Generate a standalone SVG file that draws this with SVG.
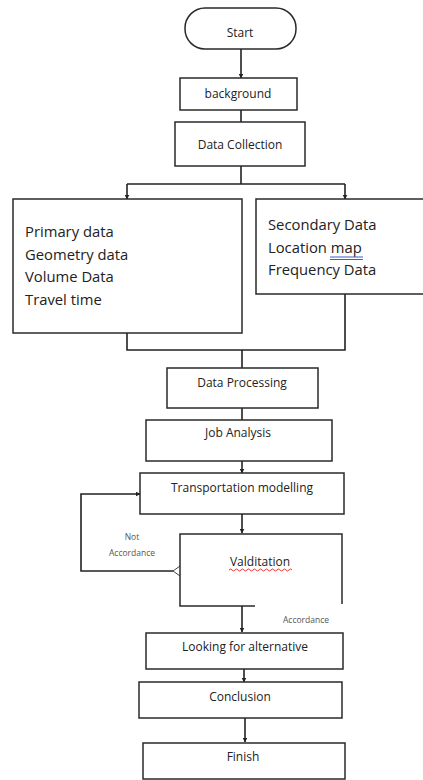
<svg xmlns="http://www.w3.org/2000/svg" width="423" height="780" viewBox="0 0 423 780">
<defs>
<marker id="ah" viewBox="0 0 10 10" refX="9" refY="5" markerWidth="5" markerHeight="5" orient="auto" markerUnits="userSpaceOnUse">
<path d="M0,0 L10,5 L0,10 z" fill="#222"/>
</marker>
<style>
.box{fill:#fff;stroke:#2a2a2a;stroke-width:1.5}
.lbl{font-family:"Open Sans","Liberation Sans",sans-serif;font-size:12px;fill:#222;text-anchor:middle}
.big{font-family:"Open Sans","Liberation Sans",sans-serif;font-size:14.8px;fill:#222}
.small{font-family:"Open Sans","Liberation Sans",sans-serif;font-size:8.5px;fill:#555;text-anchor:middle}
.ln{fill:none;stroke:#222;stroke-width:1.6}
</style>
</defs>
<rect width="423" height="780" fill="#fff"/>
<g id="connectors">
<path class="ln" d="M241,49 V78" marker-end="url(#ah)"/>
<path class="ln" d="M241,110 V122"/>
<path class="ln" d="M241,166 V184"/>
<path class="ln" d="M127,184 H345"/>
<path class="ln" d="M127,184 V199" marker-end="url(#ah)"/>
<path class="ln" d="M345,184 V199" marker-end="url(#ah)"/>
<path class="ln" d="M127,333 V350 H345 V294"/>
<path class="ln" d="M242,350 V368"/>
<path class="ln" d="M242,408 V420"/>
<path class="ln" d="M242,461 V473" marker-end="url(#ah)"/>
<path class="ln" d="M242,514 V533" marker-end="url(#ah)"/>
<path class="ln" d="M173,571 H81 V494 H140" marker-end="url(#ah)"/>
<path d="M180,566 L173,571 L180,576" fill="#fff" stroke="#444" stroke-width="1"/>
<path class="ln" d="M242,606 V632" marker-end="url(#ah)"/>
<path class="ln" d="M244,669 V682" marker-end="url(#ah)"/>
<path class="ln" d="M245,718 V742" marker-end="url(#ah)"/>
</g>
<g id="start">
<rect class="box" x="185" y="8" width="111" height="41" rx="20" ry="20" stroke="#5a6a80"/>
<text class="lbl" x="240" y="37" font-size="13.5">Start</text>
</g>
<g id="background">
<rect class="box" x="180" y="78" width="117" height="32"/>
<text class="lbl" x="238" y="98">background</text>
</g>
<g id="data-collection">
<rect class="box" x="175" y="122" width="130" height="44"/>
<text class="lbl" x="240" y="149">Data Collection</text>
</g>
<g id="primary">
<rect class="box" x="13" y="199" width="229" height="134"/>
<text class="big" x="25" y="237">Primary data</text>
<text class="big" x="25" y="260">Geometry data</text>
<text class="big" x="25" y="282">Volume Data</text>
<text class="big" x="25" y="305">Travel time</text>
</g>
<g id="secondary">
<path class="box" d="M424,199 H256 V294 H424"/>
<text class="big" x="268" y="230">Secondary Data</text>
<text class="big" x="268" y="253">Location map</text>
<path d="M330,257 H363 M330,259.5 H363" stroke="#3a5fcd" stroke-width="1"/>
<text class="big" x="268" y="275">Frequency Data</text>
</g>
<g id="data-processing">
<rect class="box" x="167" y="368" width="151" height="40"/>
<text class="lbl" x="242" y="387">Data Processing</text>
</g>
<g id="job-analysis">
<rect class="box" x="146" y="420" width="186" height="41"/>
<text class="lbl" x="238" y="437">Job Analysis</text>
</g>
<g id="transportation">
<rect class="box" x="140" y="473" width="204" height="41"/>
<text class="lbl" x="242" y="492" font-size="12.5">Transportation modelling</text>
</g>
<g id="validation">
<path class="box" d="M255,606 H180 V534 H342 V604"/>
<text class="lbl" x="260" y="566" font-size="12.5">Valditation</text>
<path d="M229,570 q1.5,-2 3,0 t3,0 t3,0 t3,0 t3,0 t3,0 t3,0 t3,0 t3,0 t3,0 t3,0 t3,0 t3,0 t3,0 t3,0 t3,0 t3,0 t3,0 t3,0 t3,0 t3,0" fill="none" stroke="#e02020" stroke-width="0.9"/>
<text class="small" x="132" y="540">Not</text>
<text class="small" x="132" y="556">Accordance</text>
<text class="small" x="306" y="623">Accordance</text>
</g>
<g id="alternative">
<rect class="box" x="146" y="633" width="197" height="36"/>
<text class="lbl" x="245" y="651">Looking for alternative</text>
</g>
<g id="conclusion">
<rect class="box" x="139" y="682" width="203" height="36"/>
<text class="lbl" x="240" y="701">Conclusion</text>
</g>
<g id="finish">
<rect class="box" x="143" y="743" width="202" height="36"/>
<text class="lbl" x="243" y="761">Finish</text>
</g>
</svg>
